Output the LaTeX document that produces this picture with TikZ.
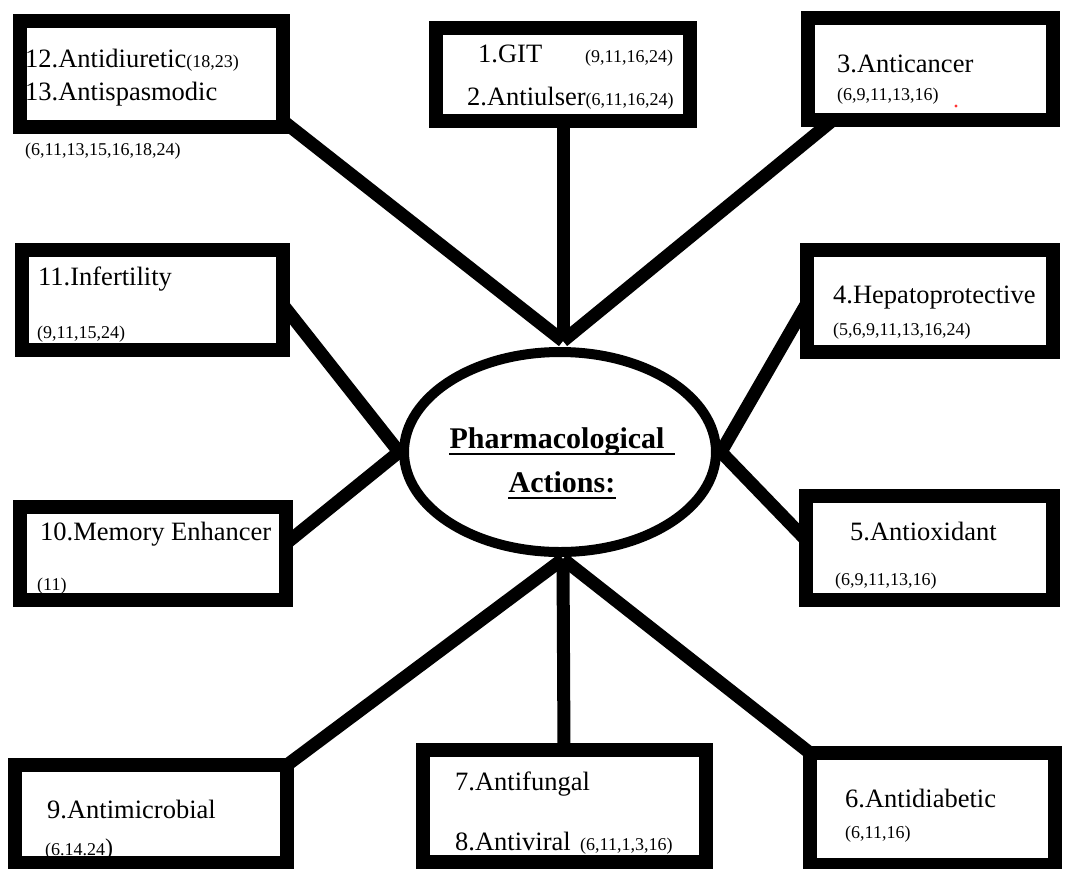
\documentclass[tikz,border=0pt]{standalone}
\usepackage{fontspec}
\setmainfont{Liberation Serif}
\usetikzlibrary{shapes.geometric,calc,backgrounds}
\newcommand{\rfs}[1]{{\fontsize{18}{20}\selectfont #1}}
\begin{document}
\begin{tikzpicture}[x=1pt,y=-1pt,
  boxnode/.style={draw=black,fill=white,line width=14pt,inner sep=0pt,outer sep=0pt},
  conn/.style={line width=13pt,line cap=butt},
  lbl/.style={font=\fontsize{26.5}{30}\selectfont,anchor=base west,inner sep=0pt},
  sml/.style={font=\fontsize{18}{20}\selectfont,anchor=base west,inner sep=0pt},
  ctr/.style={font=\fontsize{30}{34}\selectfont\bfseries,anchor=base,inner sep=0pt}]
\useasboundingbox (0,0) rectangle (1065,868);

% boxes
\node[boxnode,minimum width=263pt,minimum height=106pt] (b12) at (151.5,74) {};
\node[boxnode,minimum width=254pt,minimum height=93pt] (b1) at (563,74.5) {};
\node[boxnode,minimum width=245pt,minimum height=102pt] (b3) at (930.5,69) {};
\node[boxnode,minimum width=261pt,minimum height=100pt] (b11) at (152.5,300) {};
\node[boxnode,minimum width=246pt,minimum height=102pt] (b4) at (930,301) {};
\node[boxnode,minimum width=266pt,minimum height=93pt] (b10) at (153,553.5) {};
\node[boxnode,minimum width=247pt,minimum height=104pt] (b5) at (929.5,548) {};
\node[boxnode,minimum width=272pt,minimum height=98pt] (b9) at (151,814) {};
\node[boxnode,minimum width=283pt,minimum height=112pt] (b78) at (564,806) {};
\node[boxnode,minimum width=245pt,minimum height=112pt] (b6) at (932.5,809) {};

% center ellipse
\node[ellipse,draw=black,fill=white,line width=10pt,minimum width=312pt,minimum height=200pt,inner sep=0pt] (c) at (560,452) {};
\coordinate (ctop) at ($(c.north)+(3,-6)$);
\coordinate (cbot) at ($(c.south)+(3,2)$);

% connectors (behind)
\begin{scope}[on background layer]
\fill[white] (0,0) rectangle (1065,868);
\draw[conn] ($(b12.south east)+(0,-6)$) -- (ctop);
\draw[conn] (b1.south) -- (ctop);
\draw[conn] ($(b3.south west)+(25,0)$) -- (ctop);
\draw[conn] ($(b11.east)+(0,5)$) -- (c.west);
\draw[conn] ($(b10.east)+(0,-10)$) -- (c.west);
\draw[conn] ($(b4.west)+(0,2)$) -- (c.east);
\draw[conn] ($(b5.west)+(0,-8)$) -- (c.east);
\draw[conn] (b9.north east) -- (cbot);
\draw[conn] (b78.north) -- (cbot);
\draw[conn] (b6.north west) -- (cbot);
\end{scope}

% center text
\node[ctr] (t1) at (557,448) {Pharmacological};
\node[ctr] (t2) at (562,492) {Actions:};
\draw[line width=2.8pt] ($(t1.base west)+(0,6)$) -- ($(t1.base east)+(10,6)$);
\draw[line width=2.8pt] ($(t2.base west)+(0,6)$) -- ($(t2.base east)+(0,6)$);

% box texts
\node[lbl] (l12) at (25,67) {12.Antidiuretic\rfs{(18,23)}};
\node[lbl] (l13) at (25,100) {13.Antispasmodic};
\node[sml] (r13) at (25,155) {(6,11,13,15,16,18,24)};

\node[lbl] (l1) at (478,62) {1.GIT};
\node[sml] (r1) at (585,62) {(9,11,16,24)};
\node[lbl] (l2) at (467,105) {2.Antiulser\rfs{(6,11,16,24)}};

\node[lbl] (l3) at (837,72) {3.Anticancer};
\node[sml] (r3) at (837,100) {(6,9,11,13,16)};
\fill[red!80] (956,106) circle (1.6pt);

\node[lbl] (l11) at (38,285) {11.Infertility};
\node[sml] (r11) at (37,338) {(9,11,15,24)};

\node[lbl] (l10) at (40,540) {10.Memory Enhancer};
\node[sml] (r10) at (37,590) {(11)};

\node[lbl] (l4) at (833,303) {4.Hepatoprotective};
\node[sml] (r4) at (833,335) {(5,6,9,11,13,16,24)};

\node[lbl] (l5) at (850,540) {5.Antioxidant};
\node[sml] (r5) at (835,585) {(6,9,11,13,16)};

\node[lbl] (l9) at (47,818) {9.Antimicrobial};
\node[sml] (r9) at (45,855) {(6.14.24{\fontsize{24}{26}\selectfont)}};

\node[lbl] (l7) at (455,790) {7.Antifungal};
\node[lbl] (l8) at (455,850) {8.Antiviral};
\node[sml] (r8) at (580,850) {(6,11,1,3,16)};

\node[lbl] (l6) at (845,807) {6.Antidiabetic};
\node[sml] (r6) at (845,838) {(6,11,16)};
\end{tikzpicture}
\end{document}
